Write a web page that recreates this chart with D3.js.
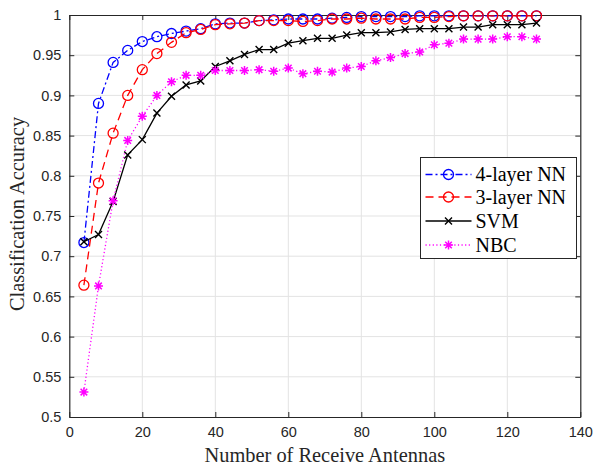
<!DOCTYPE html>
<html>
<head>
<meta charset="utf-8">
<script src="https://cdn.jsdelivr.net/npm/d3@7"></script>
<style>
  body { margin: 0; background: #fff; }
  svg { display: block; }
</style>
</head>
<body>
<div id="chart"></div>
<script>
// number of receive antennas (x)
var antennas = d3.range(4, 129, 4);

// classification accuracy per method
var nn4 = [0.717, 0.890, 0.941, 0.956, 0.967, 0.973, 0.977, 0.980, 0.983, 0.989, 0.990, 0.990,
           0.993, 0.994, 0.995, 0.995, 0.995, 0.996, 0.997, 0.998, 0.998, 0.998, 0.998, 0.999,
           0.999, 0.999, 0.999, 0.999, 0.999, 0.999, 0.999, 0.999];
var nn3 = [0.664, 0.791, 0.853, 0.900, 0.932, 0.952, 0.966, 0.978, 0.982, 0.988, 0.989, 0.990,
           0.993, 0.993, 0.993, 0.992, 0.993, 0.995, 0.995, 0.996, 0.995, 0.995, 0.995, 0.997,
           0.997, 0.998, 0.999, 0.999, 0.999, 0.999, 0.999, 0.999];
var svm = [0.718, 0.727, 0.768, 0.826, 0.845, 0.878, 0.899, 0.913, 0.918, 0.936, 0.943, 0.951,
           0.957, 0.957, 0.965, 0.968, 0.971, 0.971, 0.975, 0.978, 0.978, 0.979, 0.982, 0.983,
           0.983, 0.983, 0.985, 0.985, 0.988, 0.988, 0.988, 0.990];
var nbc = [0.531, 0.663, 0.769, 0.844, 0.874, 0.900, 0.917, 0.925, 0.925, 0.931, 0.931, 0.931,
           0.932, 0.930, 0.934, 0.927, 0.930, 0.929, 0.934, 0.936, 0.943, 0.947, 0.952, 0.954,
           0.963, 0.965, 0.970, 0.970, 0.970, 0.973, 0.973, 0.970];

var seriesNames = ["4-layer NN", "3-layer NN", "SVM", "NBC"];
var xTicks = d3.range(0, 141, 20);
var yTicks = d3.range(0.5, 1.0001, 0.05);

var series = [
    {name: seriesNames[0], values: nn4, color: "#0000ff", dash: "7,3,2,3", marker: "circle"},
    {name: seriesNames[1], values: nn3, color: "#ff0000", dash: "8,5", marker: "circle"},
    {name: seriesNames[2], values: svm, color: "#000000", dash: null, marker: "x"},
    {name: seriesNames[3], values: nbc, color: "#ff00ff", dash: "1.2,2.4", marker: "star"}
];

var width = 594, height = 465;
var margin = {left: 69.3, right: 594 - 580.3, top: 15, bottom: 465 - 417};

var svg = d3.select("#chart").append("svg")
    .attr("width", width)
    .attr("height", height);

var x = d3.scaleLinear().domain([0, 140]).range([margin.left, width - margin.right]);
var y = d3.scaleLinear().domain([0.5, 1]).range([height - margin.bottom, margin.top]);

// grid
var grid = svg.append("g").attr("class", "grid");
grid.selectAll(".gx").data(xTicks.slice(1, -1)).enter().append("line")
    .attr("x1", function (d) { return x(d); })
    .attr("x2", function (d) { return x(d); })
    .attr("y1", y(0.5)).attr("y2", y(1))
    .attr("stroke", "#e3e3e3").attr("stroke-width", 1);
grid.selectAll(".gy").data(yTicks.slice(1, -1)).enter().append("line")
    .attr("y1", function (d) { return y(d); })
    .attr("y2", function (d) { return y(d); })
    .attr("x1", x(0)).attr("x2", x(140))
    .attr("stroke", "#e3e3e3").attr("stroke-width", 1);

// axes (ticks inside, box on)
var tickFont = "'Liberation Sans', Arial, sans-serif";
var axisColor = "#262626";

var xAxis = svg.append("g")
    .attr("transform", "translate(0," + y(0.5) + ")")
    .call(d3.axisBottom(x).tickValues(xTicks).tickSizeInner(-5).tickSizeOuter(0).tickPadding(10)
        .tickFormat(d3.format("d")));
var xAxisTop = svg.append("g")
    .attr("transform", "translate(0," + y(1) + ")")
    .call(d3.axisTop(x).tickValues(xTicks).tickSizeInner(-5).tickSizeOuter(0).tickFormat(""));
var yAxis = svg.append("g")
    .attr("transform", "translate(" + x(0) + ",0)")
    .call(d3.axisLeft(y).tickValues(yTicks).tickSizeInner(-5).tickSizeOuter(0).tickPadding(8)
        .tickFormat(function (d) { return d3.format("")(+d.toFixed(2)); }));
var yAxisRight = svg.append("g")
    .attr("transform", "translate(" + x(140) + ",0)")
    .call(d3.axisRight(y).tickValues(yTicks).tickSizeInner(-5).tickSizeOuter(0).tickFormat(""));

[xAxis, xAxisTop, yAxis, yAxisRight].forEach(function (a) {
    a.select(".domain").attr("stroke", axisColor).attr("stroke-width", 1.2);
    a.selectAll(".tick line").attr("stroke", axisColor).attr("stroke-width", 1);
    a.selectAll(".tick text")
        .attr("fill", axisColor)
        .style("font-family", tickFont)
        .style("font-size", "14.5px");
});

// lines
var line = d3.line()
    .x(function (d, i) { return x(antennas[i]); })
    .y(function (d) { return y(d); });

function drawMarker(g, type, color) {
    if (type === "circle") {
        g.append("circle").attr("r", 5)
            .attr("fill", "none").attr("stroke", color).attr("stroke-width", 1.3);
    } else if (type === "x") {
        g.append("path").attr("d", "M-3.5,-3.5L3.5,3.5M-3.5,3.5L3.5,-3.5")
            .attr("stroke", color).attr("stroke-width", 1.4).attr("fill", "none");
    } else if (type === "star") {
        g.append("path")
            .attr("d", "M-4.5,0L4.5,0M0,-4.5L0,4.5M-3.3,-3.3L3.3,3.3M-3.3,3.3L3.3,-3.3")
            .attr("stroke", color).attr("stroke-width", 1.5).attr("fill", "none");
    }
}

series.forEach(function (s) {
    var g = svg.append("g").attr("class", "series");
    g.append("path")
        .datum(s.values)
        .attr("d", line)
        .attr("fill", "none")
        .attr("stroke", s.color)
        .attr("stroke-width", 1.3)
        .attr("stroke-dasharray", s.dash);
    g.selectAll(".m").data(s.values).enter().append("g")
        .attr("transform", function (d, i) { return "translate(" + x(antennas[i]) + "," + y(d) + ")"; })
        .each(function () { drawMarker(d3.select(this), s.marker, s.color); });
});

// axis labels
var labelFont = "'Liberation Serif', 'Times New Roman', serif";
svg.append("text")
    .attr("x", (x(0) + x(140)) / 2)
    .attr("y", 462)
    .attr("text-anchor", "middle")
    .style("font-family", labelFont)
    .style("font-size", "20.4px")
    .attr("fill", axisColor)
    .text("Number of Receive Antennas");

svg.append("text")
    .attr("transform", "translate(24,214) rotate(-90)")
    .attr("text-anchor", "middle")
    .style("font-family", labelFont)
    .style("font-size", "20.4px")
    .attr("fill", axisColor)
    .text("Classification Accuracy");

// legend
var legend = svg.append("g").attr("transform", "translate(420.5,157.5)");
legend.append("rect")
    .attr("width", 156).attr("height", 101)
    .attr("fill", "#fff").attr("stroke", axisColor).attr("stroke-width", 1);

var legendRows = [17, 39.5, 63.5, 87.5];
series.forEach(function (s, i) {
    var row = legend.append("g").attr("transform", "translate(0," + legendRows[i] + ")");
    row.append("line")
        .attr("x1", 5).attr("x2", 51)
        .attr("stroke", s.color).attr("stroke-width", 1.3)
        .attr("stroke-dasharray", s.dash);
    var m = row.append("g").attr("transform", "translate(28,0)");
    drawMarker(m, s.marker, s.color);
    row.append("text")
        .attr("x", 55).attr("y", 6.5)
        .style("font-family", labelFont)
        .style("font-size", "20px")
        .attr("fill", "#000")
        .text(s.name);
});
</script>
</body>
</html>
